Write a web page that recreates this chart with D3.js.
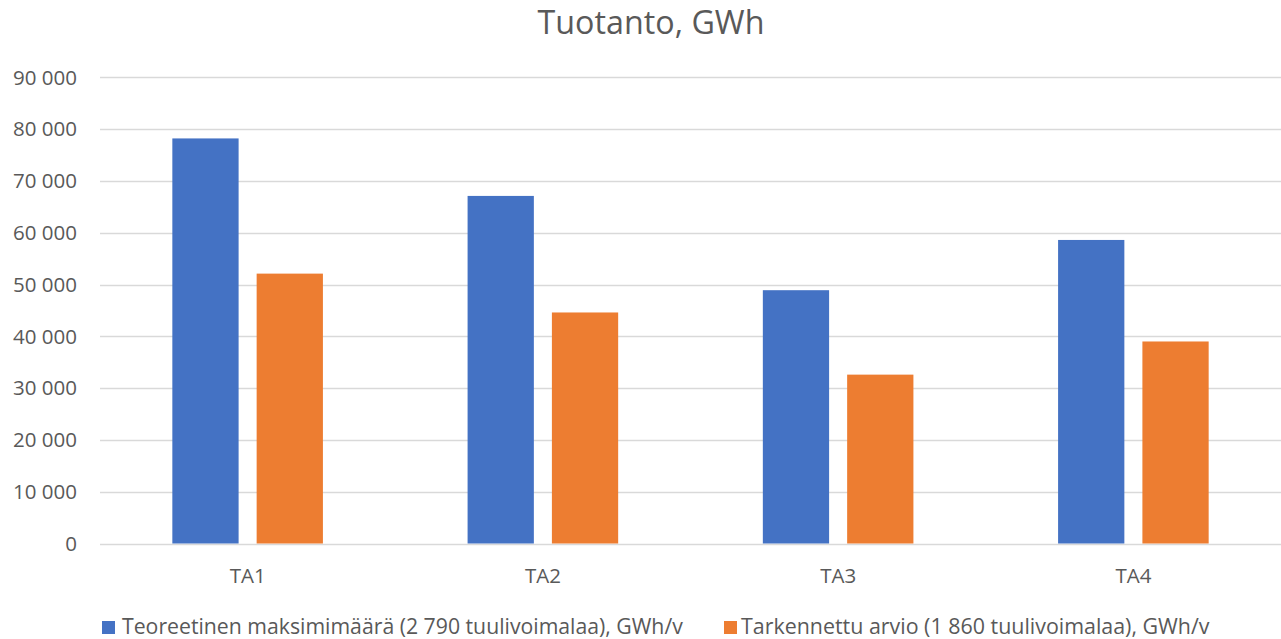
<!DOCTYPE html>
<html>
<head>
<meta charset="utf-8">
<script src="https://cdn.jsdelivr.net/npm/d3@7"></script>
<style>
  body { margin: 0; background: #fff; }
  svg text { font-family: "Open Sans", sans-serif; fill: #595959; }
</style>
</head>
<body>
<div id="chart"></div>
<script>
// data
var categories = ["TA1", "TA2", "TA3", "TA4"];
var seriesNames = ["Teoreetinen maksimimäärä (2 790 tuulivoimalaa), GWh/v",
                   "Tarkennettu arvio (1 860 tuulivoimalaa), GWh/v"];
var maxValues = [78200, 67100, 48900, 58600];
var estimateValues = [52100, 44600, 32600, 39000];
var yTicks = [0, 10000, 20000, 30000, 40000, 50000, 60000, 70000, 80000, 90000];
var colors = ["#4472C4", "#ED7D31"];

var width = 1281, height = 639;
var margin = {top: 77, right: 0, bottom: 95, left: 100};

var svg = d3.select("#chart").append("svg")
    .attr("width", width)
    .attr("height", height);

var x0 = d3.scaleBand().domain(categories).range([margin.left, width - margin.right]).padding(0);
var x1 = d3.scaleBand().domain([0, 1])
    .range([x0.bandwidth() * 0.245, x0.bandwidth() * 0.755])
    .paddingInner(0.214).paddingOuter(0);
var y = d3.scaleLinear().domain([0, 90000]).range([543.5, 77.3]);

var fmt = function(v) { return d3.format(",")(v).replace(/,/g, " "); };

// fit a text to a target width by scaling its font size
function fit(sel, w) {
  var len = sel.node().getComputedTextLength();
  var fs = parseFloat(sel.style("font-size"));
  sel.style("font-size", (fs * w / len) + "px");
}

// grid lines
svg.append("g").selectAll("line").data(yTicks).enter().append("line")
    .attr("x1", margin.left).attr("x2", width)
    .attr("y1", function(d) { return Math.round(y(d)) + 0.5; })
    .attr("y2", function(d) { return Math.round(y(d)) + 0.5; })
    .attr("stroke", "#D9D9D9").attr("stroke-width", 1.4);

// y axis labels
svg.append("g").selectAll("text").data(yTicks).enter().append("text")
    .attr("x", 77).attr("y", function(d) { return y(d); })
    .attr("dy", "0.36em")
    .attr("text-anchor", "end")
    .style("font-size", "20.5px")
    .text(fmt);

// bars
var rows = categories.map(function(c, i) { return {cat: c, vals: [maxValues[i], estimateValues[i]]}; });
var grp = svg.append("g").selectAll("g").data(rows).enter().append("g")
    .attr("transform", function(d) { return "translate(" + x0(d.cat) + ",0)"; });
grp.selectAll("rect").data(function(d) { return d.vals.map(function(v, k) { return {k: k, v: v}; }); })
  .enter().append("rect")
    .attr("x", function(d) { return x1(d.k); })
    .attr("width", x1.bandwidth())
    .attr("y", function(d) { return y(d.v); })
    .attr("height", function(d) { return y(0) - y(d.v); })
    .attr("fill", function(d) { return colors[d.k]; });

// category labels
svg.append("g").selectAll("text").data(categories).enter().append("text")
    .attr("x", function(d) { return x0(d) + x0.bandwidth() / 2; })
    .attr("y", 583)
    .attr("text-anchor", "middle")
    .style("font-size", "20.5px")
    .text(function(d) { return d; });

// title
var title = svg.append("text")
    .attr("x", 651).attr("y", 34)
    .attr("text-anchor", "middle")
    .style("font-size", "31px")
    .text("Tuotanto, GWh");
fit(title, 227);

// legend
var legendPos = [{sx: 102, tx: 122, tw: 561}, {sx: 724, tx: 741, tw: 469}];
seriesNames.forEach(function(name, i) {
  svg.append("rect")
     .attr("x", legendPos[i].sx).attr("y", 621)
     .attr("width", 13).attr("height", 13)
     .attr("fill", colors[i]);
  var t = svg.append("text")
     .attr("x", legendPos[i].tx).attr("y", 634)
     .style("font-size", "19px")
     .text(name);
  fit(t, legendPos[i].tw);
});
</script>
</body>
</html>
